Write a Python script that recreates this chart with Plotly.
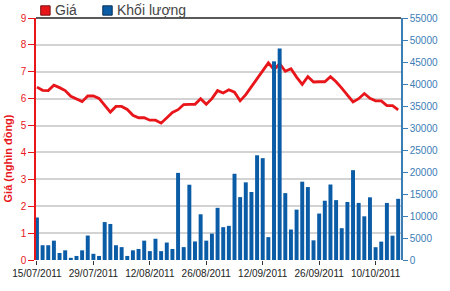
import plotly.graph_objects as go
import pandas as pd

# ---- data ----
trading_days = [d for d in pd.bdate_range("2011-07-15", "2011-10-14") if d.strftime("%d/%m") != "02/09"]
dates = [d.strftime("%d/%m/%Y") for d in trading_days]

price = [6.43, 6.31, 6.30, 6.50, 6.41, 6.30, 6.09, 6.00, 5.89, 6.10,
         6.10, 6.01, 5.74, 5.50, 5.71, 5.71, 5.60, 5.38, 5.29, 5.29,
         5.20, 5.20, 5.09, 5.29, 5.49, 5.59, 5.78, 5.79, 5.79, 6.00,
         5.79, 6.00, 6.30, 6.21, 6.33, 6.24, 5.92, 6.15, 6.45, 6.75,
         7.07, 7.33, 7.08, 7.30, 7.02, 7.11, 6.80, 6.53, 6.82, 6.62,
         6.63, 6.63, 6.82, 6.63, 6.39, 6.15, 5.88, 6.00, 6.19, 6.01,
         5.92, 5.92, 5.74, 5.74, 5.58]

volume = [9660, 3360, 3360, 4400, 1590, 2200, 490, 920, 2200, 5560,
          1410, 920, 8620, 8190, 3360, 2930, 920, 2200, 2510, 4400,
          2020, 4830, 2020, 3970, 2510, 19800, 2930, 17110, 4220, 10390,
          4400, 5990, 11860, 7460, 7760, 19600, 14300, 17650, 15450, 23800,
          23150, 5200, 45150, 48050, 15200, 6930, 11450, 17800, 16580, 4470,
          10560, 13470, 17160, 13610, 7230, 13190, 20420, 12970, 9930, 14250,
          2910, 4180, 12970, 5530, 13900]

tick_dates = ["15/07/2011", "29/07/2011", "12/08/2011", "26/08/2011",
              "12/09/2011", "26/09/2011", "10/10/2011"]

series_names = ["Giá", "Khối lượng"]
y_title = "Giá (nghìn đồng)"

RED = "#e8161b"
BLUE = "#0b5ca6"
AXBLUE = "#3b7db5"

# ---- geometry helpers (pixel -> paper) ----
W, H = 450, 291
ML, MR, MT, MB = 22, 40, 15, 18
PW, PH = W - ML - MR, H - MT - MB


def px(x):
    return (x - ML) / PW


def py(y):
    return (H - MB - y) / PH


fig = go.Figure()
fig.add_trace(go.Bar(x=dates, y=volume, name=series_names[1], marker_color=BLUE,
                     marker_line_width=0, yaxis="y2", showlegend=False))
fig.add_trace(go.Scatter(x=dates, y=price, name=series_names[0], mode="lines",
                         line=dict(color=RED, width=2.8), yaxis="y", showlegend=False))

fig.update_layout(
    width=W, height=H,
    margin=dict(l=ML, r=MR, t=MT, b=MB),
    paper_bgcolor="white", plot_bgcolor="white",
    font=dict(family="Liberation Sans, Arial, sans-serif", size=10, color="#333333"),
    bargap=0.3,
    xaxis=dict(type="category", range=[-0.17, 64.5], tickmode="array",
               tickvals=tick_dates, ticktext=tick_dates, ticks="outside", ticklen=4,
               tickcolor="#333333", showgrid=False, showline=False,
               tickfont=dict(size=10, color="#222222"), zeroline=False),
    yaxis=dict(range=[0, 9], dtick=1, showgrid=True, gridcolor="#d3d3d3", gridwidth=1.5,
               showline=True, linecolor=RED, linewidth=1.5, ticks="outside", ticklen=6,
               tickcolor=RED, tickfont=dict(size=10, color=RED), zeroline=False),
    yaxis2=dict(range=[0, 55000], dtick=5000, tickformat="d", overlaying="y", side="right",
                showgrid=False, showline=True, linecolor=AXBLUE, linewidth=1.5,
                ticks="outside", ticklen=5, tickcolor=AXBLUE,
                tickfont=dict(size=10, color=AXBLUE), zeroline=False),
)

# top border
fig.add_shape(type="line", xref="paper", yref="paper", x0=0, x1=1, y0=1, y1=1,
              line=dict(color="#222222", width=1.5))

# custom legend
fig.add_shape(type="rect", xref="paper", yref="paper", x0=px(27), x1=px(37),
              y0=py(12), y1=py(2), fillcolor=RED, line=dict(color="#7a1010", width=1))
fig.add_shape(type="rect", xref="paper", yref="paper", x0=px(93), x1=px(103),
              y0=py(12), y1=py(2), fillcolor=BLUE, line=dict(color="#0a2f55", width=1))
fig.add_annotation(text=series_names[0], xref="paper", yref="paper", x=px(40), y=py(7),
                   xanchor="left", yanchor="middle", showarrow=False,
                   font=dict(size=14, color="#444444"))
fig.add_annotation(text=series_names[1], xref="paper", yref="paper", x=px(106), y=py(7),
                   xanchor="left", yanchor="middle", showarrow=False,
                   font=dict(size=14, color="#444444"))

# left axis title, hugging the left edge
fig.add_annotation(text="<b>" + y_title + "</b>", xref="paper", yref="paper",
                   x=px(-8), y=py(165), xanchor="center", yanchor="middle",
                   textangle=-90, showarrow=False, font=dict(size=11, color=RED))

fig.write_html("out.html")
